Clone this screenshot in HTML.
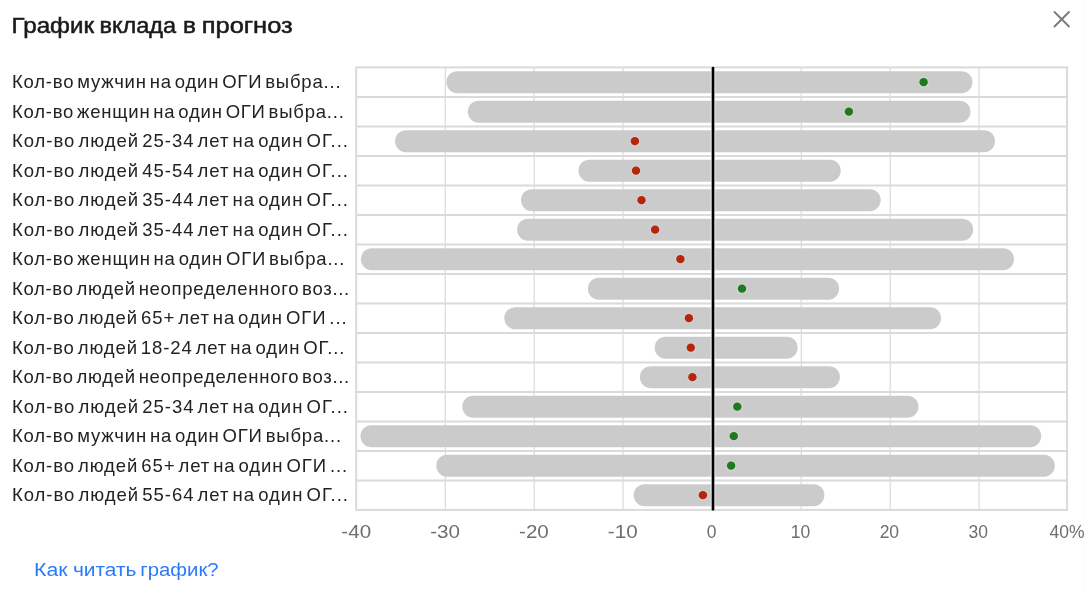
<!DOCTYPE html>
<html><head><meta charset="utf-8"><style>
html,body{margin:0;padding:0;background:#fff;width:1084px;height:592px;overflow:hidden}
svg{position:absolute;left:0;top:0;will-change:transform}
text{font-family:"Liberation Sans",sans-serif}
.title{font-size:21.3px;font-weight:normal;fill:#1a1a1a;stroke:#1a1a1a;stroke-width:0.5px}
.lab{font-size:18.5px;fill:#222;letter-spacing:0.9px;word-spacing:-3px}
.tick{font-size:17.5px;fill:#6e6e6e}
.link{font-size:18px;fill:#2b7bf8}
</style></head><body>
<svg width="1084" height="592" viewBox="0 0 1084 592">
<text x="11.50" y="32.7" class="title" textLength="82.47" lengthAdjust="spacingAndGlyphs">График</text><text x="99.50" y="32.7" class="title" textLength="76.62" lengthAdjust="spacingAndGlyphs">вклада</text><text x="183.10" y="32.7" class="title" textLength="12.93" lengthAdjust="spacingAndGlyphs">в</text><text x="201.70" y="32.7" class="title" textLength="91.03" lengthAdjust="spacingAndGlyphs">прогноз</text>
<g stroke="#7a7a7a" stroke-width="1.9" stroke-linecap="round"><line x1="1054.5" y1="12" x2="1069" y2="26.5"/><line x1="1069" y1="12" x2="1054.5" y2="26.5"/></g>
<line x1="1083.5" y1="0" x2="1083.5" y2="592" stroke="#fbfbfb" stroke-width="1"/>
<line x1="445.3" y1="67.4" x2="445.3" y2="509.9" stroke="#dadada" stroke-width="1.2"/><line x1="534.2" y1="67.4" x2="534.2" y2="509.9" stroke="#dadada" stroke-width="1.2"/><line x1="623.0" y1="67.4" x2="623.0" y2="509.9" stroke="#dadada" stroke-width="1.2"/><line x1="801.3" y1="67.4" x2="801.3" y2="509.9" stroke="#dadada" stroke-width="1.2"/><line x1="890.2" y1="67.4" x2="890.2" y2="509.9" stroke="#dadada" stroke-width="1.2"/><line x1="979.0" y1="67.4" x2="979.0" y2="509.9" stroke="#dadada" stroke-width="1.2"/><line x1="356.2" y1="96.90" x2="1067.1" y2="96.90" stroke="#dadada" stroke-width="2"/><line x1="356.2" y1="126.40" x2="1067.1" y2="126.40" stroke="#dadada" stroke-width="2"/><line x1="356.2" y1="155.90" x2="1067.1" y2="155.90" stroke="#dadada" stroke-width="2"/><line x1="356.2" y1="185.40" x2="1067.1" y2="185.40" stroke="#dadada" stroke-width="2"/><line x1="356.2" y1="214.90" x2="1067.1" y2="214.90" stroke="#dadada" stroke-width="2"/><line x1="356.2" y1="244.40" x2="1067.1" y2="244.40" stroke="#dadada" stroke-width="2"/><line x1="356.2" y1="273.90" x2="1067.1" y2="273.90" stroke="#dadada" stroke-width="2"/><line x1="356.2" y1="303.40" x2="1067.1" y2="303.40" stroke="#dadada" stroke-width="2"/><line x1="356.2" y1="332.90" x2="1067.1" y2="332.90" stroke="#dadada" stroke-width="2"/><line x1="356.2" y1="362.40" x2="1067.1" y2="362.40" stroke="#dadada" stroke-width="2"/><line x1="356.2" y1="391.90" x2="1067.1" y2="391.90" stroke="#dadada" stroke-width="2"/><line x1="356.2" y1="421.40" x2="1067.1" y2="421.40" stroke="#dadada" stroke-width="2"/><line x1="356.2" y1="450.90" x2="1067.1" y2="450.90" stroke="#dadada" stroke-width="2"/><line x1="356.2" y1="480.40" x2="1067.1" y2="480.40" stroke="#dadada" stroke-width="2"/><rect x="356.2" y="67.4" width="710.90" height="442.50" fill="none" stroke="#dadada" stroke-width="2"/><rect x="446.4" y="71.15" width="526.00" height="22" rx="11.0" fill="#cbcbcb"/><rect x="467.8" y="100.65" width="502.70" height="22" rx="11.0" fill="#cbcbcb"/><rect x="395.1" y="130.15" width="599.90" height="22" rx="11.0" fill="#cbcbcb"/><rect x="578.5" y="159.65" width="262.20" height="22" rx="11.0" fill="#cbcbcb"/><rect x="521.0" y="189.15" width="359.70" height="22" rx="11.0" fill="#cbcbcb"/><rect x="517.1" y="218.65" width="456.10" height="22" rx="11.0" fill="#cbcbcb"/><rect x="360.9" y="248.15" width="653.10" height="22" rx="11.0" fill="#cbcbcb"/><rect x="587.9" y="277.65" width="251.20" height="22" rx="11.0" fill="#cbcbcb"/><rect x="504.3" y="307.15" width="436.70" height="22" rx="11.0" fill="#cbcbcb"/><rect x="654.7" y="336.65" width="142.90" height="22" rx="11.0" fill="#cbcbcb"/><rect x="639.9" y="366.15" width="200.00" height="22" rx="11.0" fill="#cbcbcb"/><rect x="462.3" y="395.65" width="456.10" height="22" rx="11.0" fill="#cbcbcb"/><rect x="360.5" y="425.15" width="680.70" height="22" rx="11.0" fill="#cbcbcb"/><rect x="436.3" y="454.65" width="618.50" height="22" rx="11.0" fill="#cbcbcb"/><rect x="633.7" y="484.15" width="190.70" height="22" rx="11.0" fill="#cbcbcb"/><line x1="713.0" y1="68.0" x2="713.0" y2="509.29999999999995" stroke="#fff" stroke-opacity="0.8" stroke-width="4.6"/><line x1="713.0" y1="68.0" x2="713.0" y2="509.29999999999995" stroke="#000" stroke-width="2.7" stroke-linecap="round"/><circle cx="923.6" cy="82.15" r="5.6" fill="#fff" fill-opacity="0.12"/><circle cx="923.6" cy="82.15" r="4.2" fill="#1f7a1f"/><circle cx="848.9" cy="111.65" r="5.6" fill="#fff" fill-opacity="0.12"/><circle cx="848.9" cy="111.65" r="4.2" fill="#1f7a1f"/><circle cx="634.9" cy="141.15" r="5.6" fill="#fff" fill-opacity="0.12"/><circle cx="634.9" cy="141.15" r="4.2" fill="#b5260b"/><circle cx="636.0" cy="170.65" r="5.6" fill="#fff" fill-opacity="0.12"/><circle cx="636.0" cy="170.65" r="4.2" fill="#b5260b"/><circle cx="641.5" cy="200.15" r="5.6" fill="#fff" fill-opacity="0.12"/><circle cx="641.5" cy="200.15" r="4.2" fill="#b5260b"/><circle cx="655.1" cy="229.65" r="5.6" fill="#fff" fill-opacity="0.12"/><circle cx="655.1" cy="229.65" r="4.2" fill="#b5260b"/><circle cx="680.4" cy="259.15" r="5.6" fill="#fff" fill-opacity="0.12"/><circle cx="680.4" cy="259.15" r="4.2" fill="#b5260b"/><circle cx="742.0" cy="288.65" r="5.6" fill="#fff" fill-opacity="0.12"/><circle cx="742.0" cy="288.65" r="4.2" fill="#1f7a1f"/><circle cx="688.9" cy="318.15" r="5.6" fill="#fff" fill-opacity="0.12"/><circle cx="688.9" cy="318.15" r="4.2" fill="#b5260b"/><circle cx="690.8" cy="347.65" r="5.6" fill="#fff" fill-opacity="0.12"/><circle cx="690.8" cy="347.65" r="4.2" fill="#b5260b"/><circle cx="692.4" cy="377.15" r="5.6" fill="#fff" fill-opacity="0.12"/><circle cx="692.4" cy="377.15" r="4.2" fill="#b5260b"/><circle cx="737.3" cy="406.65" r="5.6" fill="#fff" fill-opacity="0.12"/><circle cx="737.3" cy="406.65" r="4.2" fill="#1f7a1f"/><circle cx="733.8" cy="436.15" r="5.6" fill="#fff" fill-opacity="0.12"/><circle cx="733.8" cy="436.15" r="4.2" fill="#1f7a1f"/><circle cx="731.1" cy="465.65" r="5.6" fill="#fff" fill-opacity="0.12"/><circle cx="731.1" cy="465.65" r="4.2" fill="#1f7a1f"/><circle cx="702.9" cy="495.15" r="5.6" fill="#fff" fill-opacity="0.12"/><circle cx="702.9" cy="495.15" r="4.2" fill="#b5260b"/>
<text x="11.9" y="88.15" class="lab" textLength="329.53" lengthAdjust="spacing">Кол-во мужчин на один ОГИ выбра...</text><text x="11.9" y="117.65" class="lab" textLength="332.84" lengthAdjust="spacing">Кол-во женщин на один ОГИ выбра...</text><text x="11.9" y="147.15" class="lab" textLength="337.02" lengthAdjust="spacing">Кол-во людей 25-34 лет на один ОГ...</text><text x="11.9" y="176.65" class="lab" textLength="337.02" lengthAdjust="spacing">Кол-во людей 45-54 лет на один ОГ...</text><text x="11.9" y="206.15" class="lab" textLength="337.02" lengthAdjust="spacing">Кол-во людей 35-44 лет на один ОГ...</text><text x="11.9" y="235.65" class="lab" textLength="337.02" lengthAdjust="spacing">Кол-во людей 35-44 лет на один ОГ...</text><text x="11.9" y="265.15" class="lab" textLength="333.44" lengthAdjust="spacing">Кол-во женщин на один ОГИ выбра...</text><text x="11.9" y="294.65" class="lab" textLength="338.23" lengthAdjust="spacing">Кол-во людей неопределенного воз...</text><text x="11.9" y="324.15" class="lab" textLength="335.57" lengthAdjust="spacing">Кол-во людей 65+ лет на один ОГИ ...</text><text x="11.9" y="353.65" class="lab" textLength="333.42" lengthAdjust="spacing">Кол-во людей 18-24 лет на один ОГ...</text><text x="11.9" y="383.15" class="lab" textLength="338.23" lengthAdjust="spacing">Кол-во людей неопределенного воз...</text><text x="11.9" y="412.65" class="lab" textLength="337.02" lengthAdjust="spacing">Кол-во людей 25-34 лет на один ОГ...</text><text x="11.9" y="442.15" class="lab" textLength="330.13" lengthAdjust="spacing">Кол-во мужчин на один ОГИ выбра...</text><text x="11.9" y="471.65" class="lab" textLength="336.17" lengthAdjust="spacing">Кол-во людей 65+ лет на один ОГИ ...</text><text x="11.9" y="501.15" class="lab" textLength="337.02" lengthAdjust="spacing">Кол-во людей 55-64 лет на один ОГ...</text>
<text x="356.20" y="537.6" class="tick" text-anchor="middle" textLength="29.80" lengthAdjust="spacingAndGlyphs">-40</text><text x="445.06" y="537.6" class="tick" text-anchor="middle" textLength="29.80" lengthAdjust="spacingAndGlyphs">-30</text><text x="533.92" y="537.6" class="tick" text-anchor="middle" textLength="29.80" lengthAdjust="spacingAndGlyphs">-20</text><text x="622.79" y="537.6" class="tick" text-anchor="middle" textLength="29.80" lengthAdjust="spacingAndGlyphs">-10</text><text x="711.65" y="537.6" class="tick" text-anchor="middle">0</text><text x="800.51" y="537.6" class="tick" text-anchor="middle">10</text><text x="889.38" y="537.6" class="tick" text-anchor="middle">20</text><text x="978.24" y="537.6" class="tick" text-anchor="middle">30</text><text x="1067.10" y="537.6" class="tick" text-anchor="middle">40%</text>
<text x="34.05" y="576.2" class="link" textLength="33.53" lengthAdjust="spacingAndGlyphs">Как</text><text x="72.90" y="576.2" class="link" textLength="63.62" lengthAdjust="spacingAndGlyphs">читать</text><text x="140.30" y="576.2" class="link" textLength="78.29" lengthAdjust="spacingAndGlyphs">график?</text>
</svg>
</body></html>
